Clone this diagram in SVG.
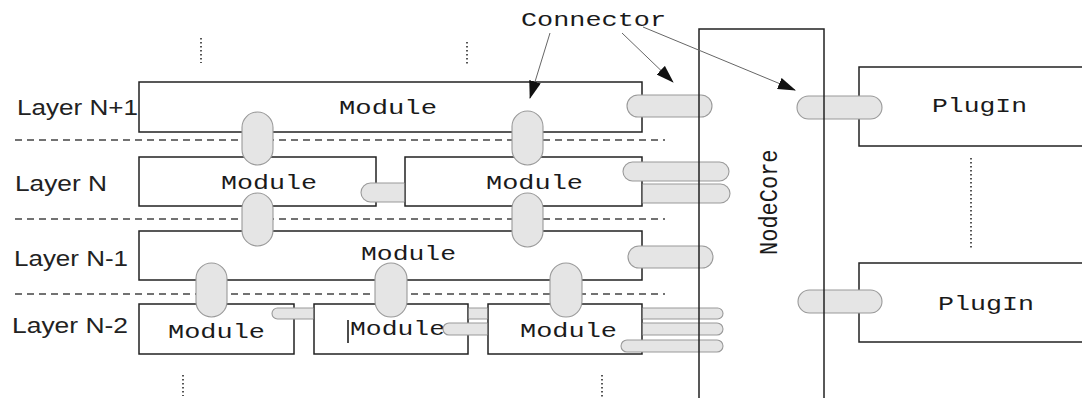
<svg xmlns="http://www.w3.org/2000/svg" width="1082" height="398" viewBox="0 0 1082 398">
  <style>
    .box { fill: #ffffff; stroke: #222222; stroke-width: 1.5; }
    .frame { fill: none; stroke: #222222; stroke-width: 1.5; }
    .pill { fill: #e5e5e5; stroke: #9a9a9a; stroke-width: 1.1; }
    .edge { fill: none; stroke: #9a9a9a; stroke-width: 1.1; }
    .sep { stroke: #444444; stroke-width: 1.3; stroke-dasharray: 7 5; fill: none; }
    .dots { stroke: #555555; stroke-width: 2; stroke-dasharray: 1.5 2.5; fill: none; }
    .mono { font-family: "Liberation Mono", "Courier New", monospace; font-size: 21px; fill: #1a1a1a; }
    .sans { font-family: "Liberation Sans", Arial, sans-serif; font-size: 22px; fill: #222222; }
    .ptr { stroke: #666666; stroke-width: 1; fill: none; }
  </style>
  <defs>
    <marker id="head" markerUnits="userSpaceOnUse" markerWidth="18" markerHeight="12" viewBox="0 0 18 12" refX="17" refY="6" orient="auto">
      <path d="M0,0 L18,6 L0,12 Z" fill="#111111"/>
    </marker>
  </defs>

  <!-- layer separators -->
  <g id="separators">
    <line class="sep" x1="15" y1="140" x2="665" y2="140"/>
    <line class="sep" x1="15" y1="219" x2="665" y2="219"/>
    <line class="sep" x1="15" y1="294" x2="665" y2="294"/>
  </g>

  <!-- continuation dots -->
  <g id="ellipsis">
    <line class="dots" x1="201" y1="38" x2="201" y2="63"/>
    <line class="dots" x1="467" y1="42" x2="467" y2="65"/>
    <line class="dots" x1="971" y1="158" x2="971" y2="249"/>
    <line class="dots" x1="183" y1="375" x2="183" y2="396"/>
    <line class="dots" x1="602" y1="375" x2="602" y2="398"/>
  </g>

  <!-- layer labels -->
  <g id="layer-labels">
    <text class="sans" x="17" y="115" textLength="121" lengthAdjust="spacingAndGlyphs">Layer N+1</text>
    <text class="sans" x="15" y="191" textLength="92" lengthAdjust="spacingAndGlyphs">Layer N</text>
    <text class="sans" x="14" y="266" textLength="114" lengthAdjust="spacingAndGlyphs">Layer N-1</text>
    <text class="sans" x="12" y="333" textLength="116" lengthAdjust="spacingAndGlyphs">Layer N-2</text>
  </g>

  <!-- modules -->
  <g id="module-n1">
    <rect class="box" x="139" y="82" width="503" height="50"/>
    <text class="mono" x="339" y="114" textLength="98" lengthAdjust="spacingAndGlyphs">Module</text>
  </g>
  <g id="module-n-a">
    <rect class="box" x="139" y="157" width="237" height="49"/>
    <text class="mono" x="221" y="189" textLength="96" lengthAdjust="spacingAndGlyphs">Module</text>
  </g>
  <g id="module-n-b">
    <rect class="box" x="405" y="157" width="237" height="49"/>
    <text class="mono" x="486" y="189" textLength="97" lengthAdjust="spacingAndGlyphs">Module</text>
  </g>
  <g id="module-nm1">
    <rect class="box" x="139" y="231" width="503" height="49"/>
    <text class="mono" x="361" y="260" textLength="95" lengthAdjust="spacingAndGlyphs">Module</text>
  </g>
  <g id="module-nm2-a">
    <rect class="box" x="139" y="304" width="155" height="50"/>
    <text class="mono" x="168" y="338" textLength="97" lengthAdjust="spacingAndGlyphs">Module</text>
  </g>
  <g id="module-nm2-b">
    <rect class="box" x="314" y="304" width="154" height="50"/>
    <text class="mono" x="350" y="335" textLength="95" lengthAdjust="spacingAndGlyphs">Module</text>
    <line x1="348" y1="320" x2="348" y2="343" stroke="#111111" stroke-width="1.5"/>
  </g>
  <g id="module-nm2-c">
    <rect class="box" x="488" y="304" width="154" height="50"/>
    <text class="mono" x="520" y="337" textLength="97" lengthAdjust="spacingAndGlyphs">Module</text>
  </g>

  <!-- plug-ins -->
  <g id="plugin-1">
    <rect class="box" x="859" y="67" width="250" height="79"/>
    <text class="mono" x="932" y="112" textLength="95" lengthAdjust="spacingAndGlyphs">PlugIn</text>
  </g>
  <g id="plugin-2">
    <rect class="box" x="859" y="263" width="250" height="79"/>
    <text class="mono" x="938" y="310" textLength="96" lengthAdjust="spacingAndGlyphs">PlugIn</text>
  </g>

  <!-- connectors -->
  <g id="connectors">
    <!-- between layers -->
    <rect class="pill" x="242" y="112" width="31" height="53" rx="15.5"/>
    <rect class="pill" x="512" y="111" width="31" height="54" rx="15.5"/>
    <rect class="pill" x="242" y="193" width="31" height="53" rx="15.5"/>
    <rect class="pill" x="512" y="193" width="31" height="54" rx="15.5"/>
    <rect class="pill" x="196" y="263" width="31" height="54" rx="15.5"/>
    <rect class="pill" x="375" y="263" width="32" height="54" rx="16"/>
    <rect class="pill" x="550" y="263" width="32" height="54" rx="16"/>

    <!-- within a layer -->
    <path class="pill" d="M404.25,183 H370.5 A9.5,9.5 0 0 0 370.5,202 H404.25"/>
    <path class="pill" d="M313.25,308 H277.5 A5.5,5.5 0 0 0 277.5,319 H313.25"/>
    <rect x="468.75" y="308" width="18.5" height="11" fill="#e5e5e5"/>
    <path class="edge" d="M468.75,308 H487.25 M468.75,319 H487.25"/>
    <path class="pill" d="M487.25,323 H449 A6,6 0 0 0 449,335 H487.25"/>

    <!-- modules to node core -->
    <rect class="pill" x="627" y="95" width="85" height="22" rx="11"/>
    <rect class="pill" x="623" y="162" width="106" height="19" rx="9.5"/>
    <path class="pill" d="M642.75,184 H720.5 A9.5,9.5 0 0 1 720.5,203 H642.75"/>
    <rect class="pill" x="628" y="246" width="85" height="22" rx="11"/>
    <path class="pill" d="M642.75,308 H717.5 A5.5,5.5 0 0 1 717.5,319 H642.75"/>
    <path class="pill" d="M642.75,323 H717 A6,6 0 0 1 717,335 H642.75"/>
    <rect class="pill" x="621" y="340" width="102" height="12" rx="6"/>

    <!-- node core to plug-ins -->
    <rect class="pill" x="797" y="96" width="85" height="23" rx="11.5"/>
    <rect class="pill" x="798" y="290" width="84" height="23" rx="11.5"/>
  </g>

  <!-- node core -->
  <g id="nodecore">
    <rect class="frame" x="699" y="29" width="125" height="400"/>
    <text class="mono" font-size="22" transform="translate(777,255) scale(1.2,1) rotate(-90)" style="font-size:22px">NodeCore</text>
  </g>

  <!-- connector callout -->
  <g id="connector-label">
    <text class="mono" x="521" y="26" textLength="145" lengthAdjust="spacingAndGlyphs">Connector</text>
    <line class="ptr" x1="550" y1="33" x2="530" y2="98" marker-end="url(#head)"/>
    <line class="ptr" x1="622" y1="33" x2="673" y2="82" marker-end="url(#head)"/>
    <line class="ptr" x1="643" y1="27" x2="795" y2="90" marker-end="url(#head)"/>
  </g>
</svg>
